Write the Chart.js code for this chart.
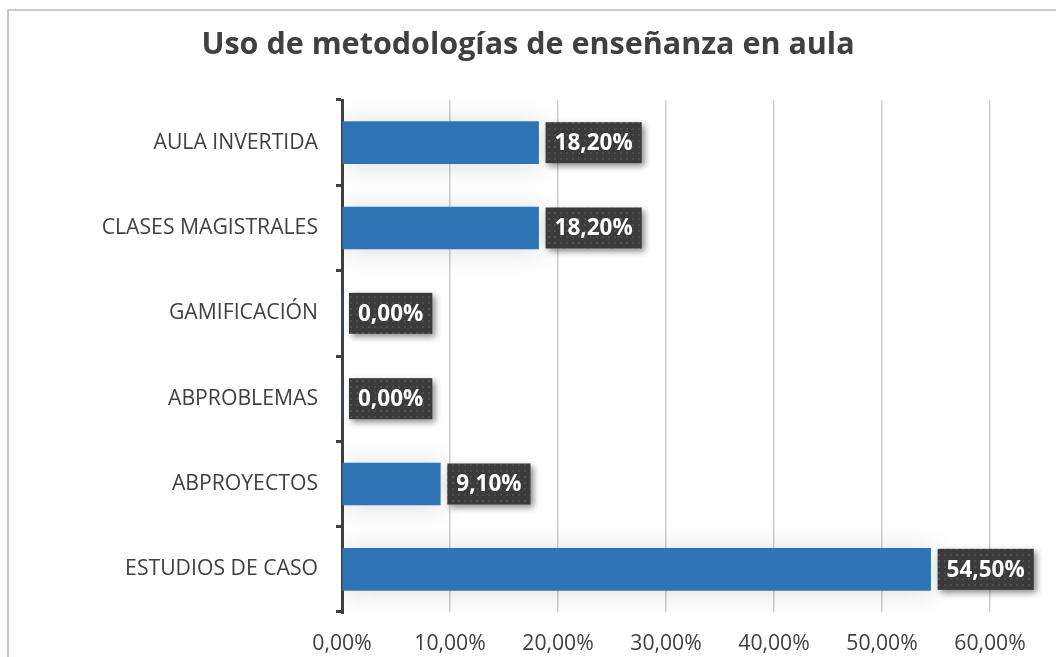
<!DOCTYPE html>
<html>
<head>
<meta charset="utf-8">
<script src="https://cdn.jsdelivr.net/npm/chart.js@4/dist/chart.umd.min.js"></script>
<style>
    html, body { margin: 0; padding: 0; background: #fff; }
    #wrap { width: 1056px; height: 657px; position: relative; }
</style>
</head>
<body>
<div id="wrap"><canvas id="metodologiasChart"></canvas></div>
<script>
// data
const categorias = ['AULA INVERTIDA', 'CLASES MAGISTRALES', 'GAMIFICACIÓN', 'ABPROBLEMAS', 'ABPROYECTOS', 'ESTUDIOS DE CASO'];
const porcentajes = [18.2, 18.2, 0, 0, 9.1, 54.5];
const tituloGrafico = 'Uso de metodologías de enseñanza en aula';
const ejeMin = 0;
const ejeMax = 60;
const ejePaso = 10;

function formatoPct(v) {
    return Number(v).toFixed(2).replace('.', ',') + '%';
}

// dotted dark pattern for the value boxes
function patronEtiqueta(ctx) {
    const c = document.createElement('canvas');
    c.width = 6; c.height = 6;
    const p = c.getContext('2d');
    p.fillStyle = '#3b3b3b';
    p.fillRect(0, 0, 6, 6);
    p.fillStyle = '#4f4f4f';
    p.fillRect(2, 2, 2, 2);
    return ctx.createPattern(c, 'repeat');
}

// outer frame and centred title
const marcoPlugin = {
    id: 'marco',
    beforeDraw(chart) {
        const ctx = chart.ctx;
        ctx.save();
        ctx.strokeStyle = '#c9c9c9';
        ctx.lineWidth = 2;
        ctx.strokeRect(8, 10, 1200, 800);
        ctx.fillStyle = '#404040';
        ctx.font = 'bold 30.5px "Open Sans"';
        ctx.textAlign = 'center';
        ctx.textBaseline = 'middle';
        ctx.fillText(tituloGrafico, chart.width / 2, 45);
        ctx.restore();
    }
};

// soft shadow behind the bars
const sombraPlugin = {
    id: 'sombra',
    beforeDatasetsDraw(chart) {
        const ctx = chart.ctx;
        ctx.save();
        ctx.shadowColor = 'rgba(0,0,0,0.14)';
        ctx.shadowBlur = 28;
        ctx.shadowOffsetX = 2;
        ctx.shadowOffsetY = 2;
    },
    afterDatasetsDraw(chart) {
        chart.ctx.restore();
    }
};

// value labels: dark box with white bold text
const etiquetasPlugin = {
    id: 'etiquetas',
    afterDatasetsDraw(chart) {
        const ctx = chart.ctx;
        const meta = chart.getDatasetMeta(0);
        const patron = patronEtiqueta(ctx);
        ctx.save();
        ctx.font = 'bold 22.5px "Open Sans"';
        meta.data.forEach((el, i) => {
            const txt = formatoPct(porcentajes[i]);
            const w = ctx.measureText(txt).width + 18;
            const h = 41;
            const x = el.x + 7;
            const y = el.y - h / 2;
            ctx.save();
            ctx.shadowColor = 'rgba(0,0,0,0.45)';
            ctx.shadowBlur = 6;
            ctx.shadowOffsetX = 3;
            ctx.shadowOffsetY = 3;
            ctx.fillStyle = patron;
            ctx.fillRect(x, y, w, h);
            ctx.restore();
            ctx.fillStyle = '#ffffff';
            ctx.textAlign = 'left';
            ctx.textBaseline = 'middle';
            ctx.fillText(txt, x + 9, el.y + 1);
        });
        ctx.restore();
    }
};

document.addEventListener('DOMContentLoaded', function () {
    const ctx = document.getElementById('metodologiasChart');
    new Chart(ctx, {
        type: 'bar',
        data: {
            labels: categorias,
            datasets: [{
                label: 'Uso',
                data: porcentajes,
                backgroundColor: '#2E74B5',
                borderWidth: 0,
                barThickness: 42
            }]
        },
        options: {
            indexAxis: 'y',
            responsive: true,
            maintainAspectRatio: false,
            animation: false,
            layout: {
                padding: { left: 0, right: 66, top: 100, bottom: 4 }
            },
            plugins: {
                legend: { display: false },
                tooltip: { enabled: false },
                title: { display: false }
            },
            scales: {
                x: {
                    min: ejeMin,
                    max: ejeMax,
                    ticks: {
                        stepSize: ejePaso,
                        callback: v => formatoPct(v),
                        color: '#404040',
                        font: { family: 'Open Sans', size: 21.2 },
                        padding: 19,
                        maxRotation: 0
                    },
                    grid: { color: '#d0d0d0', lineWidth: 1.5, drawTicks: false },
                    border: { display: false },
                    afterFit: s => { s.height = 41; }
                },
                y: {
                    ticks: {
                        color: '#404040',
                        font: { family: 'Open Sans', size: 21.2 },
                        padding: 18
                    },
                    grid: {
                        drawOnChartArea: false,
                        tickLength: 6,
                        tickColor: '#404040',
                        lineWidth: 3
                    },
                    border: { color: '#404040', width: 3 },
                    afterFit: s => { s.width = 342; }
                }
            }
        },
        plugins: [marcoPlugin, sombraPlugin, etiquetasPlugin]
    });
});
</script>
</body>
</html>
